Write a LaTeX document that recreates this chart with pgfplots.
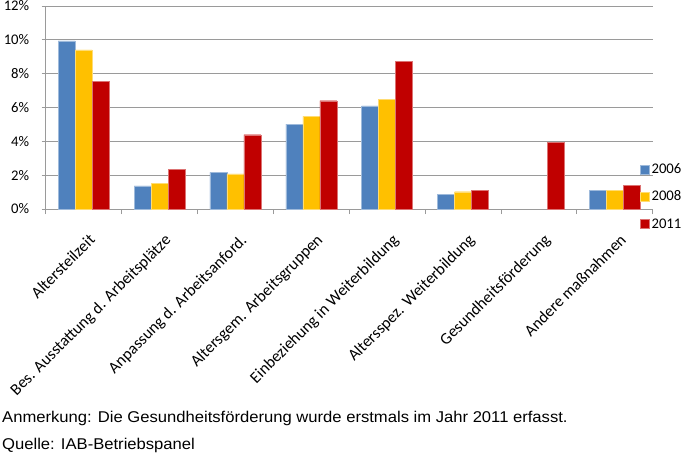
\documentclass[border=0pt]{standalone}
\usepackage{pgfplots}
\pgfplotsset{compat=1.18}
\usepackage{fontspec}
\setmainfont{Carlito}
\newfontfamily\arialfont[FakeStretch=1.065]{Liberation Sans}
\definecolor{c06}{HTML}{4F81BD}
\definecolor{c08}{HTML}{FFC000}
\definecolor{c11}{HTML}{C00000}
\definecolor{gridc}{HTML}{9A9A9A}
\begin{document}
\begin{tikzpicture}[x=1pt,y=1pt]
\path[use as bounding box] (0,0) rectangle (685,456);
\begin{axis}[
  at={(45.7pt,247pt)}, anchor=south west,
  scale only axis, width=607pt, height=203pt,
  ybar=0pt, bar width=17pt,
  xmin=-0.5, xmax=7.5, ymin=0, ymax=12,
  axis x line*=bottom, axis y line*=left,
  xtick={0,...,7},
  xticklabels={Altersteilzeit,Bes. Ausstattung d. Arbeitsplätze,Anpassung d. Arbeitsanford.,Altersgem. Arbeitsgruppen,Einbeziehung in Weiterbildung,Altersspez. Weiterbildung,Gesundheitsförderung,Andere maßnahmen},
  major x tick style={draw=none},
  minor xtick={-0.5,0.5,...,7.5},
  minor tick length=5pt, major tick length=4pt,
  tick align=outside,
  ytick={0,2,...,12},
  yticklabel={\pgfmathprintnumber{\tick}\%},
  /pgf/number format/assume math mode=true,
  ymajorgrids,
  grid style={gridc, line width=0.9pt},
  axis line style={gridc, line width=0.9pt},
  tick style={gridc, line width=0.9pt},
  yticklabel style={font=\fontsize{14.7}{14.7}\selectfont, xshift=-9pt},
  xticklabel style={font=\fontsize{16.3}{16.3}\selectfont, rotate=45, anchor=north east, inner sep=0pt, xshift=-11pt, yshift=-17pt},
  legend style={at={(rel axis cs:0.979,0.235)}, anchor=north west, draw=none, fill=none,
    font=\fontsize{14.7}{14.7}\selectfont, row sep=12pt, inner sep=0pt,
    /tikz/every even column/.append style={column sep=3pt}},
  legend cell align=left,
  legend image code/.code={\fill[#1] (0pt,-4.5pt) rectangle (9pt,4.5pt);},
]
\addplot[fill=c06, draw=c06!55!white, line width=0.4pt] coordinates {(0,9.94) (1,1.36) (2,2.17) (3,5.02) (4,6.10) (5,0.87) (7,1.10)};
\addplot[fill=c08, draw=c08!55!white, line width=0.4pt] coordinates {(0,9.41) (1,1.52) (2,2.07) (3,5.47) (4,6.50) (5,1.02) (7,1.10)};
\addplot[fill=c11, draw=c11!55!white, line width=0.4pt] coordinates {(0,7.56) (1,2.36) (2,4.39) (3,6.40) (4,8.72) (5,1.10) (6,3.92) (7,1.40)};
\legend{2006,2008,2011}
\end{axis}
\node[anchor=base west, font=\arialfont\fontsize{15.6}{15.6}\selectfont, inner sep=0pt] at (2,34) {Anmerkung: Die Gesundheitsförderung wurde erstmals im Jahr 2011 erfasst.};
\node[anchor=base west, font=\arialfont\fontsize{15.6}{15.6}\selectfont, inner sep=0pt] at (2,7) {Quelle: IAB-Betriebspanel};
\end{tikzpicture}
\end{document}
